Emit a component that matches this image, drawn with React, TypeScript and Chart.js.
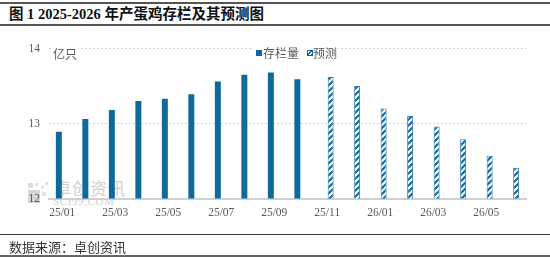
import React, { useEffect, useRef } from "react";
import { Chart, registerables } from "chart.js";

Chart.register(...registerables);

const categories = [
  "25/01", "25/02", "25/03", "25/04", "25/05", "25/06", "25/07", "25/08", "25/09",
  "25/10", "25/11", "25/12", "26/01", "26/02", "26/03", "26/04", "26/05", "26/06",
];
const stockValues: (number | null)[] = [
  12.89, 13.06, 13.18, 13.3, 13.33, 13.39, 13.56, 13.65, 13.68, 13.59,
  null, null, null, null, null, null, null, null,
];
const forecastValues: (number | null)[] = [
  null, null, null, null, null, null, null, null, null, null,
  13.62, 13.5, 13.2, 13.1, 12.96, 12.79, 12.57, 12.41,
];
const seriesNames = ["存栏量", "预测"];
const yMin = 12;
const yMax = 14;

const BLUE = "#0f6a9b";
const GRID = "#d0d0d0";
const TICK = "#595959";

function makePattern(ctx: CanvasRenderingContext2D): CanvasPattern | string {
  const s = 6;
  const c = document.createElement("canvas");
  c.width = s;
  c.height = s;
  const p = c.getContext("2d");
  if (!p) return BLUE;
  p.fillStyle = "#ffffff";
  p.fillRect(0, 0, s, s);
  p.strokeStyle = BLUE;
  p.lineWidth = 2.2;
  p.beginPath();
  p.moveTo(-1, s + 1);
  p.lineTo(s + 1, -1);
  p.moveTo(-s / 2 - 1, s / 2 + 1);
  p.lineTo(s / 2 + 1, -s / 2 - 1);
  p.moveTo(s / 2 - 1, s * 1.5 + 1);
  p.lineTo(s * 1.5 + 1, s / 2 - 1);
  p.stroke();
  return ctx.createPattern(c, "repeat") || BLUE;
}

export default function App() {
  const canvasRef = useRef<HTMLCanvasElement | null>(null);

  useEffect(() => {
    const canvas = canvasRef.current;
    if (!canvas) return;
    const ctx = canvas.getContext("2d");
    if (!ctx) return;
    const pattern = makePattern(ctx);

    const chart = new Chart(canvas, {
      type: "bar",
      data: {
        labels: categories,
        datasets: [
          {
            label: seriesNames[0],
            data: stockValues,
            backgroundColor: BLUE,
            borderWidth: 0,
            categoryPercentage: 0.513,
            barPercentage: 0.88,
          },
          {
            label: seriesNames[1],
            data: forecastValues,
            backgroundColor: pattern as any,
            borderColor: "#2a79ab",
            borderWidth: 1,
            categoryPercentage: 0.513,
            barPercentage: 0.88,
          },
        ],
      },
      options: {
        responsive: false,
        animation: false,
        events: [],
        layout: { padding: { left: 0, right: 24, top: 48.5, bottom: 39.5 } },
        plugins: {
          legend: { display: false },
          tooltip: { enabled: false },
          title: { display: false },
        },
        scales: {
          x: {
            grid: { display: false, drawTicks: false },
            border: { display: true, color: GRID, width: 2 },
            ticks: {
              autoSkip: false,
              maxRotation: 0,
              minRotation: 0,
              padding: 8,
              color: TICK,
              font: { family: "'Liberation Serif', serif", size: 11.5 },
              callback: (_v: any, i: number) => (i % 2 === 0 ? categories[i] : ""),
            },
            afterFit: (s: any) => {
              s.height = 20;
            },
          },
          y: {
            min: yMin,
            max: yMax,
            ticks: {
              stepSize: 1,
              padding: 9,
              color: TICK,
              font: { family: "'Liberation Serif', serif", size: 11.5 },
            },
            grid: {
              drawTicks: false,
              color: (c: any) => (c.tick && c.tick.value === yMin ? "rgba(0,0,0,0)" : GRID),
              lineWidth: 1,
            },
            border: { display: false, dash: [2, 2] },
            afterFit: (s: any) => {
              s.width = 49;
            },
          },
        },
      },
    });
    return () => chart.destroy();
  }, []);

  const sans = "'Noto Sans CJK SC', 'Noto Sans', sans-serif";

  return (
    <div
      style={{
        position: "fixed",
        left: 0,
        top: 0,
        width: 550,
        height: 258,
        background: "#ffffff",
        overflow: "hidden",
      }}
    >
      {/* header */}
      <div style={{ position: "absolute", left: 0, top: 2, width: 550, height: 2, background: "#555" }} />
      <div
        style={{
          position: "absolute",
          left: 9,
          top: 5,
          height: 18,
          lineHeight: "18px",
          fontFamily: "'Liberation Serif', 'Noto Sans CJK SC', serif",
          fontWeight: 700,
          fontSize: 14.5,
          color: "#111",
          whiteSpace: "nowrap",
        }}
      >
        图 1 2025-2026 年产蛋鸡存栏及其预测图
      </div>
      <div style={{ position: "absolute", left: 0, top: 24, width: 550, height: 2, background: "#555" }} />

      {/* watermark (behind chart) */}
      <div style={{ position: "absolute", left: 28, top: 190, width: 12, height: 13, background: "#d6d6d6" }} />
      <div style={{ position: "absolute", left: 28, top: 183, width: 5, height: 5, background: "#dcdcdc" }} />
      <div style={{ position: "absolute", left: 35, top: 183, width: 3, height: 3, background: "#e2e2e2" }} />
      <div style={{ position: "absolute", left: 41, top: 186, width: 3, height: 3, background: "#e2e2e2" }} />
      <div style={{ position: "absolute", left: 45, top: 182, width: 3, height: 3, background: "#e2e2e2" }} />
      <div style={{ position: "absolute", left: 42, top: 192, width: 4, height: 4, background: "#e2e2e2" }} />
      <div
        style={{
          position: "absolute",
          left: 54,
          top: 178,
          fontFamily: sans,
          fontSize: 17,
          lineHeight: "20px",
          color: "#d0d0d0",
          letterSpacing: 1,
          whiteSpace: "nowrap",
        }}
      >
        卓创资讯
      </div>
      <div
        style={{
          position: "absolute",
          left: 53,
          top: 196,
          fontFamily: "'Liberation Serif', serif",
          fontSize: 11,
          lineHeight: "11px",
          color: "#cfcfcf",
          letterSpacing: 0.6,
          whiteSpace: "nowrap",
        }}
      >
        SCI99.COM
      </div>

      <canvas
        ref={canvasRef}
        width={550}
        height={258}
        style={{ position: "absolute", left: 0, top: 0, width: 550, height: 258 }}
      />

      {/* unit label */}
      <div
        style={{
          position: "absolute",
          left: 52,
          top: 46,
          fontFamily: sans,
          fontSize: 12,
          lineHeight: "15px",
          color: "#595959",
          background: "#ffffff",
          padding: "0 1px",
        }}
      >
        亿只
      </div>

      {/* legend */}
      <div
        style={{
          position: "absolute",
          left: 252,
          top: 45,
          width: 86,
          height: 16,
          background: "#ffffff",
          fontFamily: sans,
          fontSize: 12,
          lineHeight: "16px",
          color: "#595959",
          whiteSpace: "nowrap",
        }}
      >
        <span
          style={{
            position: "absolute",
            left: 4,
            top: 5,
            width: 6,
            height: 6,
            background: BLUE,
          }}
        />
        <span style={{ position: "absolute", left: 11, top: 0 }}>{seriesNames[0]}</span>
        <span
          style={{
            position: "absolute",
            left: 55,
            top: 5,
            width: 4,
            height: 4,
            border: `1px solid ${BLUE}`,
            background: `repeating-linear-gradient(135deg, #ffffff 0px, #ffffff 1.5px, ${BLUE} 1.5px, ${BLUE} 3px)`,
          }}
        />
        <span style={{ position: "absolute", left: 61, top: 0 }}>{seriesNames[1]}</span>
      </div>

      {/* footer */}
      <div style={{ position: "absolute", left: 0, top: 234, width: 550, height: 1, background: "#333" }} />
      <div
        style={{
          position: "absolute",
          left: 9,
          top: 238,
          fontFamily: sans,
          fontSize: 13,
          lineHeight: "17px",
          color: "#333",
          whiteSpace: "nowrap",
        }}
      >
        数据来源：卓创资讯
      </div>
      <div style={{ position: "absolute", left: 0, top: 255, width: 550, height: 2, background: "#666" }} />
    </div>
  );
}
